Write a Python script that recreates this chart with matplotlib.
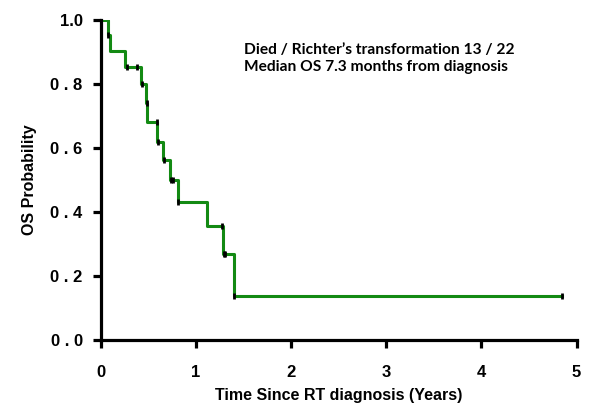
import matplotlib
matplotlib.use("Agg")
import matplotlib.pyplot as plt

# Kaplan-Meier steps (years, OS probability)
step_times = [0.0, 0.075, 0.095, 0.25, 0.42, 0.48, 0.49, 0.59, 0.65, 0.73, 0.81, 1.12, 1.28, 1.40, 4.85]
step_surv = [1.0, 0.955, 0.905, 0.855, 0.80, 0.74, 0.68, 0.62, 0.5625, 0.50, 0.43, 0.356, 0.27, 0.138, 0.138]

# censor marks
cens_times = [0.08, 0.28, 0.38, 0.43, 0.49, 0.59, 0.60, 0.66, 0.74, 0.76, 0.81, 1.27, 1.29, 1.31, 1.40, 4.85]
cens_surv = [0.955, 0.855, 0.855, 0.80, 0.74, 0.68, 0.62, 0.5625, 0.50, 0.50, 0.43, 0.356, 0.27, 0.27, 0.138, 0.138]

x_ticks = [0, 1, 2, 3, 4, 5]
y_ticks = [0.0, 0.2, 0.4, 0.6, 0.8, 1.0]
y_labels = ['0 . 0', '0 . 2', '0 . 4', '0 . 6', '0 . 8', '1.0']

note = "Died / Richter\u2019s transformation 13 / 22\nMedian OS 7.3 months from diagnosis"

plt.rcParams['font.family'] = ['Liberation Sans', 'DejaVu Sans']

fig = plt.figure(figsize=(6, 4.11), dpi=100)
ax = fig.add_axes([0.168, 0.173, 0.793, 0.778])

ax.step(step_times, step_surv, where='post', color='#138a13', lw=2.2, zorder=2)
ax.plot(cens_times, cens_surv, linestyle='none', marker='|', markersize=5,
        markeredgewidth=2, color='black', zorder=3)

ax.set_xlim(0, 5)
ax.set_ylim(0, 1)
ax.set_xticks(x_ticks)
ax.set_yticks(y_ticks)
ax.set_yticklabels(y_labels)

for s in ['top', 'right']:
    ax.spines[s].set_visible(False)
for s in ['left', 'bottom']:
    ax.spines[s].set_linewidth(2.3)
ax.tick_params(width=2.3, length=6, labelsize=12)
ax.tick_params(axis='x', pad=12)
ax.tick_params(axis='y', pad=7)
for lab in ax.get_xticklabels() + ax.get_yticklabels():
    lab.set_fontweight('bold')

ax.set_xlabel('Time Since RT diagnosis (Years)', fontsize=11.5, fontweight='bold', labelpad=6)
ax.set_ylabel('OS Probability', fontsize=11.5, fontweight='bold', labelpad=10)

ax.text(0.302, 0.93, note, transform=ax.transAxes, fontsize=11.2,
        fontweight='bold', family=['Lato', 'DejaVu Sans'], va='top', ha='left',
        linespacing=1.3)

fig.savefig('out.png', dpi=100)
